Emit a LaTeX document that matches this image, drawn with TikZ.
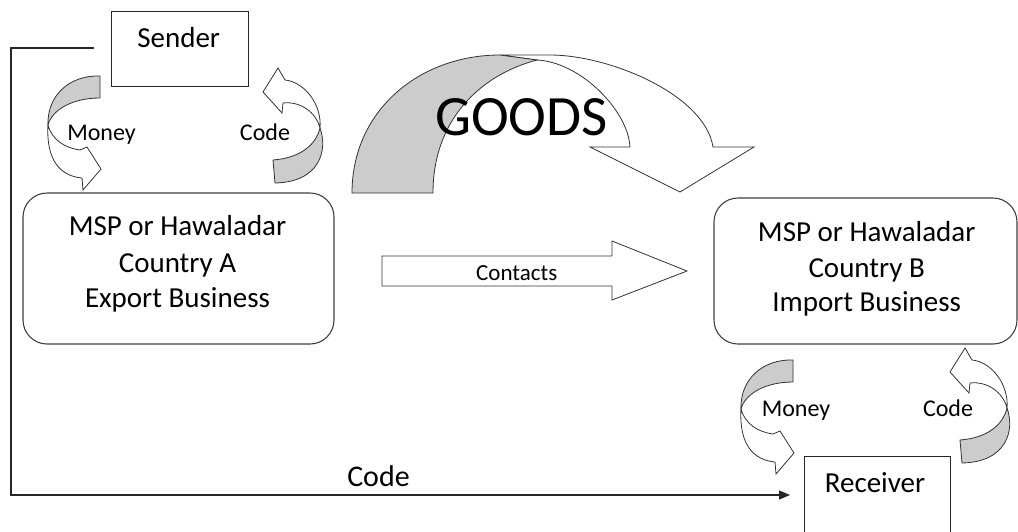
\documentclass[tikz,border=0pt]{standalone}
\usepackage{fontspec}
\setmainfont{Carlito}
\usetikzlibrary{arrows.meta}
\tikzset{
  boxr/.style={draw=black!75, line width=1.1pt, rounded corners=24pt, fill=white, inner sep=0pt},
  boxs/.style={draw=black!85, line width=1pt, fill=white, inner sep=0pt},
  lbl/.style={inner sep=0pt, anchor=base, text=black},
  bigtxt/.style={font=\fontsize{29}{35}\selectfont},
  smalltxt/.style={font=\fontsize{24}{29}\selectfont},
  shapeln/.style={draw=black!80, line width=0.8pt, line join=miter},
  shaded/.style={shapeln, fill=gray!40},
  plain/.style={shapeln, fill=white},
  conn/.style={draw=black!85, line width=1.2pt, -{Triangle[length=11pt,width=9pt]}},
  pics/moneyarr/.style={code={
    \draw[plain] (-52,49) .. controls (-54,84) and (-40,100) .. (-18,102) -- (-17,114) -- (1,93) -- (-13,71) -- (-20,74) .. controls (-35,72) and (-48,64) .. (-52,49) -- cycle;
    \draw[shaded] (0,0) .. controls (-30,-1) and (-53,19) .. (-52,49) .. controls (-48,34) and (-28,22) .. (0,22) -- cycle;
  }},
  pics/codearr/.style={code={
    \draw[plain] (47,-32) .. controls (49,-55) and (32,-78) .. (12,-80) -- (5,-92) -- (-10,-68) -- (9,-47) -- (10,-57) .. controls (27,-59) and (43,-48) .. (47,-32) -- cycle;
    \draw[shaded] (0,0) -- (2,23) .. controls (47,22) and (55,-10) .. (47,-32) .. controls (43,-15) and (27,-2) .. (0,0) -- cycle;
  }}
}
\begin{document}
\begin{tikzpicture}[x=1pt,y=-1pt]
\useasboundingbox (0,0) rectangle (1018,531);
\clip (0,0) rectangle (1018,531);

% boxes
\node[boxs, minimum width=137pt, minimum height=75pt] (sender) at (179.5,48.5) {};
\node[lbl, bigtxt] (sendert) at (178.7,47) {Sender};

\node[boxr, minimum width=311pt, minimum height=151pt] (A) at (178.5,268.5) {};
\node[lbl, bigtxt] (a1) at (177.5,235.7) {MSP or Hawaladar};
\node[lbl, bigtxt] (a2) at (177.5,272) {Country A};
\node[lbl, bigtxt] (a3) at (177.5,307) {Export Business};

\node[boxr, minimum width=303pt, minimum height=146pt] (B) at (865.5,271) {};
\node[lbl, bigtxt] (b1) at (866.7,241.7) {MSP or Hawaladar};
\node[lbl, bigtxt] (b2) at (866.7,277.7) {Country B};
\node[lbl, bigtxt] (b3) at (866.7,311.7) {Import Business};

\node[boxs, minimum width=146pt, minimum height=104pt] (receiver) at (877,508) {};
\node[lbl, bigtxt] (receivert) at (875,492) {Receiver};

% GOODS arrow
\draw[plain] (500,55) -- (550,55) .. controls (610,55) and (705,95) .. (713,147) -- (754,147) -- (680,192) -- (590,147) -- (630,147) .. controls (628,110) and (580,62) .. (537,60) -- cycle;
\draw[shaded] (352,193) .. controls (352,110) and (420,55) .. (500,55) -- (537,60) .. controls (480,75) and (433,120) .. (433,193) -- cycle;
\node[lbl, font=\fontsize{57}{68}\selectfont] (goods) at (521.5,135) {GOODS};

% Contacts arrow
\draw[plain] (382,256) -- (612,256) -- (612,241) -- (687,271) -- (612,300) -- (612,286) -- (382,286) -- cycle;
\node[lbl, font=\fontsize{23}{28}\selectfont] (contacts) at (516.7,280) {Contacts};

% curved arrows
\pic (m1) at (100,76) {moneyarr};
\pic (k1) at (273,160) {codearr};
\pic (m2) at (793,360) {moneyarr};
\pic (k2) at (960,440) {codearr};
\node[lbl, smalltxt] (money1) at (101.5,140) {Money};
\node[lbl, smalltxt] (code1) at (265,140) {Code};
\node[lbl, smalltxt] (money2) at (796,416) {Money};
\node[lbl, smalltxt] (code2) at (948,416) {Code};

% code line
\coordinate (s0) at (94,48);
\coordinate (c1) at (11,48);
\coordinate (r0) at (790,495);
\draw[conn] (s0) -- (c1) |- (r0);
\node[lbl, font=\fontsize{30}{36}\selectfont] (code3) at (378.5,486) {Code};
\end{tikzpicture}
\end{document}
